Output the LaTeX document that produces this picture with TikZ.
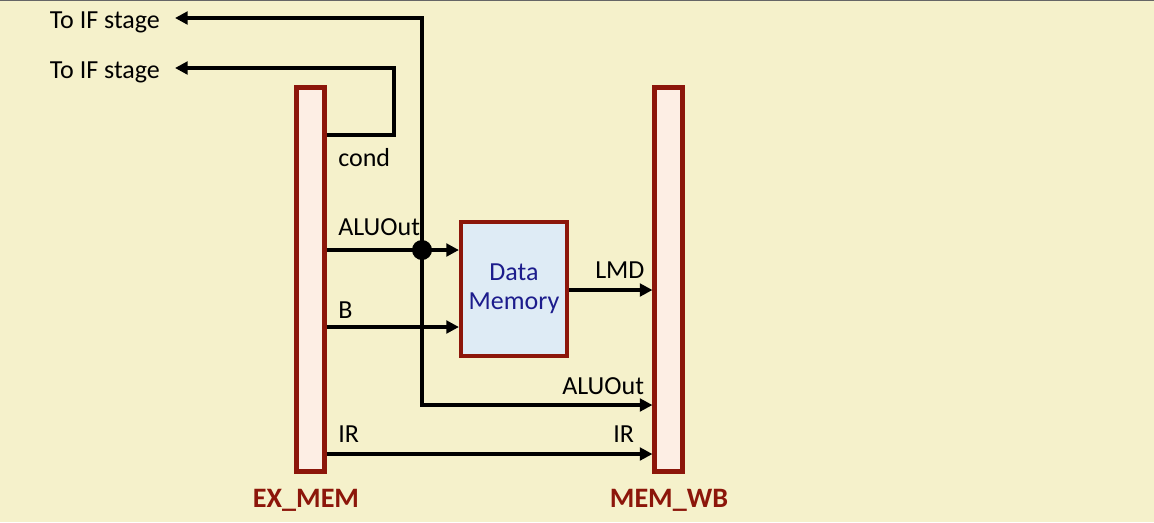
\documentclass[tikz,border=0pt]{standalone}
\usepackage{fontspec}
\setmainfont{Carlito}
\usetikzlibrary{arrows.meta, positioning, calc}
\definecolor{slidebg}{RGB}{245, 241, 203}
\definecolor{regred}{RGB}{140, 22, 10}
\definecolor{regfill}{RGB}{253, 238, 228}
\definecolor{memfill}{RGB}{222, 235, 245}
\definecolor{memtext}{RGB}{28, 28, 140}
\tikzset{
  regbox/.style={draw=regred, fill=regfill, line width=3.2pt, minimum width=0.69cm, minimum height=9.6cm, inner sep=0pt},
  membox/.style={draw=regred, fill=memfill, line width=3.2pt, minimum width=2.64cm, minimum height=3.34cm, align=center, text=memtext, font=\fontsize{18.5}{20.6}\selectfont},
  regname/.style={anchor=base, text=regred, inner sep=0pt, font=\fontsize{20}{24}\selectfont\bfseries},
  wirelbl/.style={anchor=base west, inner sep=0pt, font=\fontsize{18.5}{22}\selectfont},
  iflbl/.style={anchor=east, inner xsep=0.37cm, inner ysep=0pt, text height=0.62cm, text depth=0.12cm, font=\fontsize{18.5}{22}\selectfont},
  wire/.style={line width=3.3pt, -{Triangle[length=9pt,width=9pt]}},
  joint/.style={circle, fill=black, minimum size=0.5cm, inner sep=0pt},
}
\begin{document}
\begin{tikzpicture}[x=0.025cm, y=-0.025cm]
  \useasboundingbox (0,0) rectangle (1154,522);
  \fill[slidebg] (0,0) rectangle (1154,522);
  \draw[black!60, line width=1pt] (0,0) -- (1154,0);

  % pipeline registers
  \node[regbox] (exmem) at (310.5,279.5) {};
  \node[regbox] (memwb) at (668.5,279.5) {};
  \node[regname] (exname) at (306,507) {EX\_MEM};
  \node[regname] (wbname) at (669,507) {MEM\_WB};

  % memory
  \node[membox] (dmem) at (514,289) {Data\\Memory};

  % outputs to fetch
  \node[iflbl] (toif1) at (175,18) {To IF stage};
  \node[iflbl] (toif2) at (175,68) {To IF stage};

  \coordinate (condturn) at (394,135);
  \coordinate (brow) at (0,327);
  \coordinate (lmdrow) at (0,290);
  \coordinate (tapbot) at (422,405);
  \coordinate (irrow) at (0,454);
  \node[joint] (tap) at (422,250) {};

  \draw[wire] (exmem.east |- condturn) -- (condturn) |- (toif2);
  \draw[wire] (exmem.east |- tap) -- (dmem.west |- tap);
  \draw[wire] (tap.center) |- (toif1);
  \draw[wire] (tap.center) -- (tapbot) -- (memwb.west |- tapbot);
  \draw[wire] (exmem.east |- brow) -- (dmem.west |- brow);
  \draw[wire] (dmem.east |- lmdrow) -- (memwb.west |- lmdrow);
  \draw[wire] (exmem.east |- irrow) -- (memwb.west |- irrow);

  % wire labels
  \node[wirelbl] (condlbl) at (338,166) {cond};
  \node[wirelbl] (alulbl) at (338,235) {ALUOut};
  \node[wirelbl] (blbl) at (338,318) {B};
  \node[wirelbl] (lmdlbl) at (595,278) {LMD};
  \node[wirelbl] (aluwblbl) at (562,394) {ALUOut};
  \node[wirelbl] (irlbl) at (338,442) {IR};
  \node[wirelbl] (irwblbl) at (613,442) {IR};
\end{tikzpicture}
\end{document}
